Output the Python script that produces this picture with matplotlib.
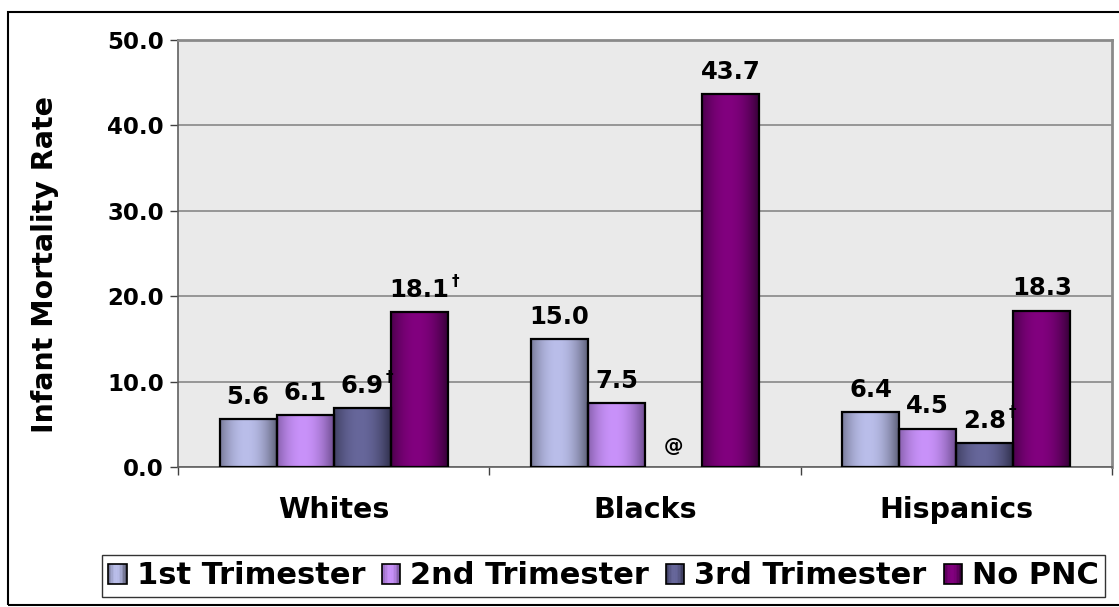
import numpy as np
import matplotlib
matplotlib.use("Agg")
import matplotlib.pyplot as plt
from matplotlib.patches import Rectangle, Patch
from matplotlib.legend_handler import HandlerBase

plt.rcParams['font.family'] = ['DejaVu Sans']
plt.rcParams['font.weight'] = 'bold'

# ---- data ----
groups = ["Whites", "Blacks", "Hispanics"]
series = ["1st Trimester", "2nd Trimester", "3rd Trimester", "No PNC"]
whites = [5.6, 6.1, 6.9, 18.1]
blacks = [15.0, 7.5, np.nan, 43.7]
hispanics = [6.4, 4.5, 2.8, 18.3]
# footnote marks (small-number caution) per bar
whites_dagger = [False, False, True, True]
blacks_dagger = [False, False, False, False]
hispanics_dagger = [False, False, True, False]
missing_mark = "@"
yticks = [0, 10, 20, 30, 40, 50]

values = np.array([whites, blacks, hispanics])
daggers = [whites_dagger, blacks_dagger, hispanics_dagger]

# (edge shade, highlight) for each series' horizontal gradient
shades = [
    ("#56586f", "#babeea"),
    ("#664786", "#c992fa"),
    ("#2c2c46", "#67679b"),
    ("#300032", "#82007f"),
]


def gradient_row(edge, center, n=64):
    e = np.array(matplotlib.colors.to_rgb(edge))
    c = np.array(matplotlib.colors.to_rgb(center))
    t = np.linspace(0, 1, n)
    w = np.clip(1 - ((t - 0.45) / 0.56) ** 2, 0, 1)
    return e[None, :] + (c - e)[None, :] * w[:, None]


W, H = 1119, 607
fig = plt.figure(figsize=(W / 100, H / 100), dpi=100)
ax = fig.add_axes([178 / W, (H - 467) / H, (1112 - 178) / W, (467 - 40) / H])
ax.set_facecolor("#eaeaea")

# outer frame
fig.patches.append(Rectangle((8 / W, (H - 605) / H), 1.2, (605 - 12) / H,
                             transform=fig.transFigure, fill=False,
                             edgecolor="black", lw=1.5, zorder=0))

bw = 57 / 311
x = np.arange(len(groups))
for j, name in enumerate(series):
    pos = x + (j - 1.5) * bw
    bars = ax.bar(pos, values[:, j], width=bw, facecolor="none",
                  edgecolor="black", lw=1.6, zorder=3, label=name)
    grad = gradient_row(*shades[j])
    for i, patch in enumerate(bars.patches):
        v = values[i, j]
        if np.isfinite(v):
            x0 = patch.get_x()
            ax.imshow(grad[None, :, :], extent=[x0, x0 + patch.get_width(), 0, patch.get_height()],
                      aspect="auto", interpolation="bilinear", zorder=2)
            txt, yv, fs = f"{v:.1f}", v, 17.5
        else:
            txt, yv, fs = missing_mark, 0, 14
        t = ax.annotate(txt, (pos[i], yv), xytext=(0, 11), textcoords="offset points",
                        ha="center", va="baseline", fontsize=fs, fontweight="bold", zorder=5)
        if daggers[i][j]:
            ax.annotate("\u2020", xy=(1, 1), xycoords=t, xytext=(1.5, 3),
                        textcoords="offset points", ha="left", va="top",
                        fontsize=11, fontweight="bold", zorder=5)

ax.set_xlim(-0.5, len(groups) - 0.5)
ax.set_ylim(0, 50)

# y axis
ax.set_yticks(yticks)
ax.set_yticklabels([f"{v:.1f}" for v in yticks], fontsize=16.5, fontweight="bold")
ax.tick_params(axis="y", length=6, width=1, color="#404040", pad=4)
ax.yaxis.grid(True, color="#808080", lw=1.1)
ax.set_axisbelow(True)
ax.set_ylabel("Infant Mortality Rate", fontsize=20.5, fontweight="bold")
ax.yaxis.set_label_coords(-0.127, 0.475)

# x axis: boundary ticks, centred category labels
ax.set_xticks(np.arange(len(groups) + 1) - 0.5)
ax.set_xticklabels([])
ax.tick_params(axis="x", which="major", length=6, width=1, color="#404040", direction="out")
ax.set_xticks(x, minor=True)
ax.set_xticklabels(groups, minor=True, fontsize=20.5, fontweight="bold")
ax.tick_params(axis="x", which="minor", length=0, pad=21)

for s in ["top", "right"]:
    ax.spines[s].set_color("#8a8a8a")
    ax.spines[s].set_linewidth(2)
ax.spines["left"].set_color("#606060")
ax.spines["bottom"].set_color("#606060")
ax.spines["left"].set_linewidth(1.2)
ax.spines["bottom"].set_linewidth(1.2)


class GradientHandler(HandlerBase):
    def create_artists(self, legend, orig_handle, xdescent, ydescent, width, height, fontsize, trans):
        edge, center = orig_handle.grad
        row = gradient_row(edge, center, n=12)
        arts = []
        n = len(row)
        for k in range(n):
            arts.append(Rectangle((-xdescent + width * k / n, -ydescent), width / n + 0.01, height,
                                  facecolor=row[k], edgecolor="none", transform=trans))
        arts.append(Rectangle((-xdescent, -ydescent), width, height, facecolor="none",
                              edgecolor="black", lw=1.2, transform=trans))
        return arts


handles = []
for j, name in enumerate(series):
    h = Patch(label=name)
    h.grad = shades[j]
    handles.append(h)

leg = fig.legend(handles=handles, labels=series, ncol=4,
                 handler_map={Patch: GradientHandler()},
                 loc="center", bbox_to_anchor=((90 + 1117) / 2 / W, 1 - 576 / H),
                 prop={"size": 22, "weight": "bold"}, frameon=True, fancybox=False,
                 edgecolor="black", handlelength=0.6, handleheight=0.65,
                 handletextpad=0.33, columnspacing=0.55, borderpad=0.2, borderaxespad=0)
leg.get_frame().set_linewidth(1.0)

fig.savefig("out.png", dpi=100)
